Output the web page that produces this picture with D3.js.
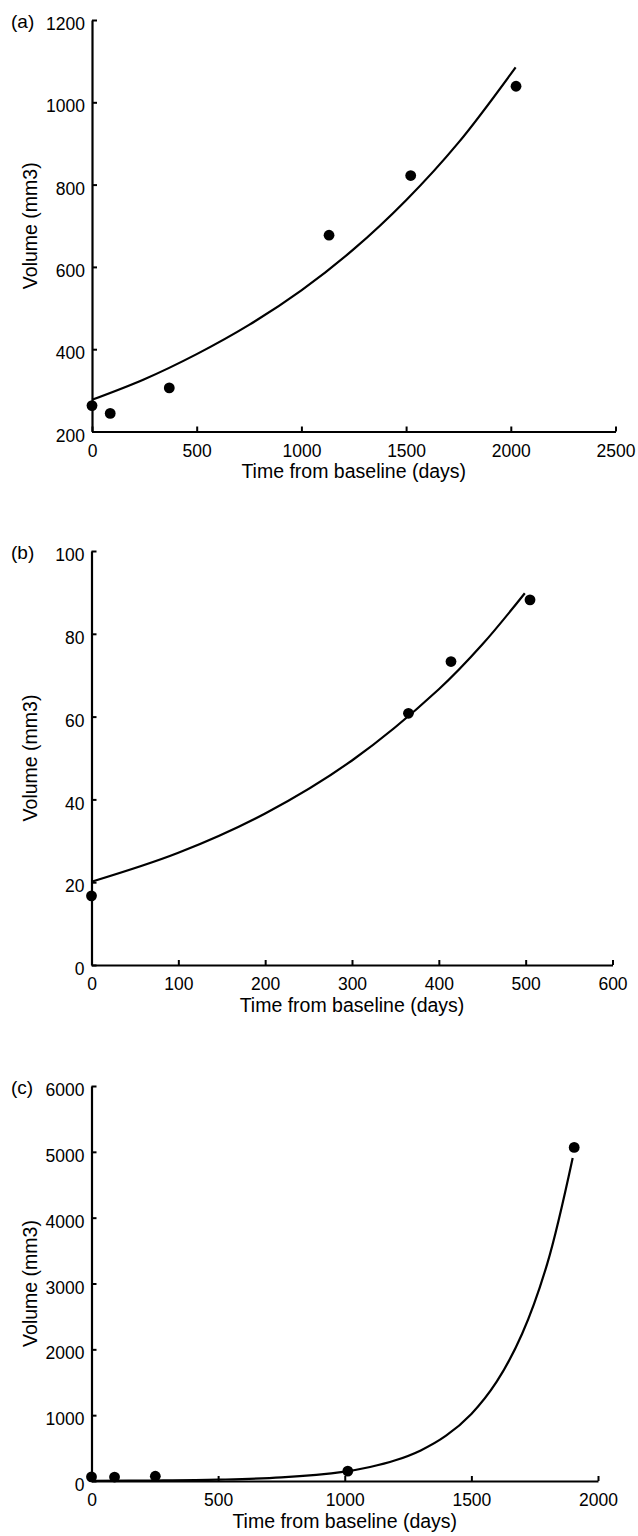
<!DOCTYPE html>
<html>
<head>
<meta charset="utf-8">
<script src="https://cdn.jsdelivr.net/npm/d3@7"></script>
<style>
  body { margin: 0; background: #fff; }
  svg text { font-family: "Liberation Sans", Arial, Helvetica, sans-serif; fill: #000; }
</style>
</head>
<body>
<div id="chart"></div>
<script>
// Panel (a): measured volumes and fitted growth curve
let aDays = [0, 87, 369, 1132, 1522, 2025];
let aVolume = [263, 244, 306, 677, 822, 1039];
let aFitDays = [0, 250, 500, 750, 1000, 1250, 1500, 1750, 2023];
let aFitVolume = [277, 327, 388, 459, 543, 643, 762, 902, 1085];
let aXTicks = [0, 500, 1000, 1500, 2000, 2500];
let aYTicks = [200, 400, 600, 800, 1000, 1200];

// Panel (b)
let bDays = [0, 365, 414, 505];
let bVolume = [16.7, 60.8, 73.3, 88.2];
let bFitDays = [0, 100, 200, 300, 400, 450, 499];
let bFitVolume = [20.1, 27.1, 36.6, 49.4, 66.6, 77.4, 89.8];
let bXTicks = [0, 100, 200, 300, 400, 500, 600];
let bYTicks = [0, 20, 40, 60, 80, 100];

// Panel (c)
let cDays = [0, 91, 252, 1012, 1906];
let cVolume = [62, 60, 72, 150, 5067];
let cFitDays = [0, 250, 500, 750, 1000, 1100, 1200, 1300, 1400, 1500, 1600, 1700, 1800, 1900];
let cFitVolume = [3, 7.5, 20, 54, 143, 212, 314, 465, 688, 1019, 1508, 2233, 3306, 4907];
let cXTicks = [0, 500, 1000, 1500, 2000];
let cYTicks = [0, 1000, 2000, 3000, 4000, 5000, 6000];

let xTitle = "Time from baseline (days)";
let yTitle = "Volume (mm3)";

let svg = d3.select("#chart").append("svg")
  .attr("width", 638)
  .attr("height", 1536);

function drawPanel(letter, days, vol, fitDays, fitVol, xTicks, yTicks, box) {
  let g = svg.append("g");

  let x = d3.scaleLinear()
    .domain([xTicks[0], xTicks[xTicks.length - 1]])
    .range([box.left, box.right]);
  let y = d3.scaleLinear()
    .domain([yTicks[0], yTicks[yTicks.length - 1]])
    .range([box.bottom, box.top]);

  // axes, ticks pointing inward
  let xAxis = g.append("g")
    .attr("transform", "translate(0," + box.bottom + ")")
    .call(d3.axisBottom(x).tickValues(xTicks).tickFormat(d3.format("d"))
      .tickSizeInner(-5).tickSizeOuter(0).tickPadding(13));
  let yAxis = g.append("g")
    .attr("transform", "translate(" + box.left + ",0)")
    .call(d3.axisLeft(y).tickValues(yTicks).tickFormat(d3.format("d"))
      .tickSizeInner(-5).tickSizeOuter(0).tickPadding(7));

  [xAxis, yAxis].forEach(a => {
    a.select(".domain").attr("stroke", "#000").attr("stroke-width", 2.2);
    a.selectAll(".tick line").attr("stroke", "#000").attr("stroke-width", 2);
    a.selectAll(".tick text").style("font-size", "17.5px");
  });
  yAxis.selectAll(".tick text").attr("dy", "0.55em");

  // fitted curve
  let line = d3.line()
    .x((d, i) => x(fitDays[i]))
    .y(d => y(d))
    .curve(d3.curveCatmullRom);
  g.append("path")
    .datum(fitVol)
    .attr("d", line)
    .attr("fill", "none")
    .attr("stroke", "#000")
    .attr("stroke-width", 2.2);

  // measured points
  g.selectAll("circle")
    .data(vol)
    .enter().append("circle")
    .attr("cx", (d, i) => x(days[i]))
    .attr("cy", d => y(d))
    .attr("r", 5.4)
    .attr("fill", "#000");

  // titles
  g.append("text")
    .attr("x", (box.left + box.right) / 2)
    .attr("y", box.bottom + 40)
    .attr("dy", "0.35em")
    .attr("text-anchor", "middle")
    .style("font-size", "19.5px")
    .text(xTitle);
  g.append("text")
    .attr("transform", "translate(30," + (box.top + box.bottom) / 2 + ") rotate(-90)")
    .attr("dy", "0.35em")
    .attr("text-anchor", "middle")
    .style("font-size", "19.5px")
    .text(yTitle);
  g.append("text")
    .attr("x", 11)
    .attr("y", box.top)
    .attr("dy", "0.4em")
    .style("font-size", "19px")
    .text(letter);
}

drawPanel("(a)", aDays, aVolume, aFitDays, aFitVolume, aXTicks, aYTicks,
  {left: 92, right: 615.5, top: 20, bottom: 431.5});
drawPanel("(b)", bDays, bVolume, bFitDays, bFitVolume, bXTicks, bYTicks,
  {left: 91.5, right: 612.5, top: 551, bottom: 965});
drawPanel("(c)", cDays, cVolume, cFitDays, cFitVolume, cXTicks, cYTicks,
  {left: 91.5, right: 598, top: 1086, bottom: 1481});
</script>
</body>
</html>
